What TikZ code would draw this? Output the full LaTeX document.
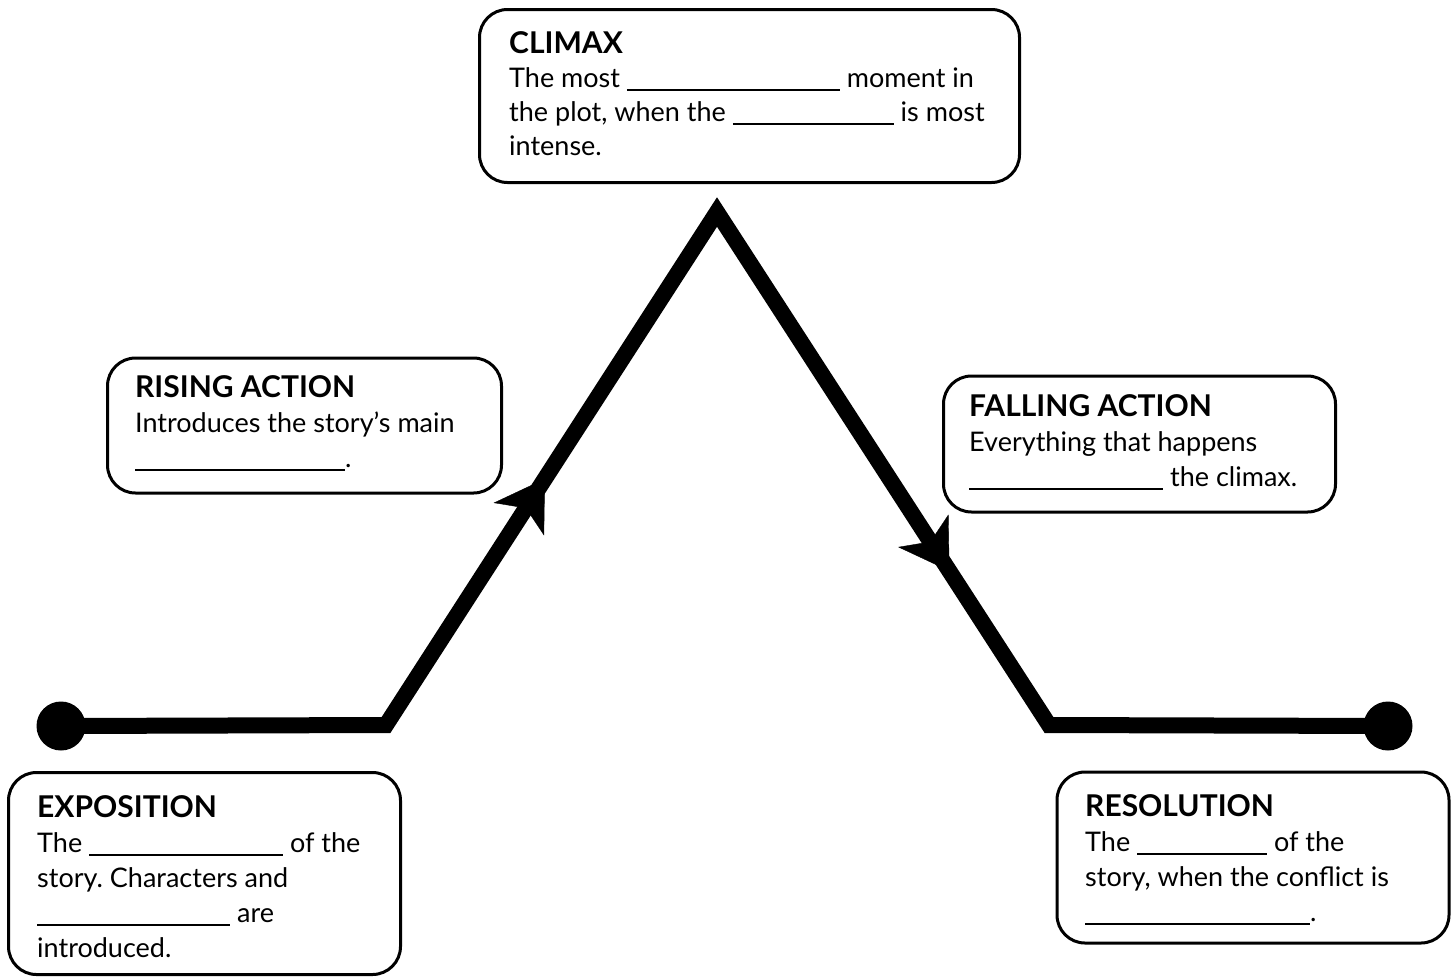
\documentclass[tikz,border=0pt]{standalone}
\usepackage{fontspec}
\setmainfont{Lato}
\usetikzlibrary{arrows.meta,decorations.markings}
\newcommand{\blank}[1]{\rule[-3pt]{#1pt}{1.8pt}}
\frenchspacing
\tikzset{
  box/.style={draw=black, line width=3pt, rounded corners=28pt, inner sep=0pt},
  txt/.style={anchor=north west, inner sep=0pt, align=left, font=\fontsize{27}{35}\selectfont},
  plotline/.style={line width=16pt, line join=miter, line cap=butt},
  dot/.style={circle, fill=black, minimum size=49pt, inner sep=0pt},
  midarrow/.style={postaction={decorate}, decoration={markings, mark=at position #1 with {\arrow{Stealth[length=48pt,width=60pt,inset=13pt]}}}}
}
\newcommand{\ttltext}[1]{{\fontsize{30}{35}\selectfont\bfseries #1}}
\begin{document}
\begin{tikzpicture}[x=1pt,y=-1pt]
\useasboundingbox (0,0) rectangle (1456,978);
% plot line
\node[dot] (dl) at (61,726) {};
\node[dot] (dr) at (1388,726) {};
\coordinate (p1) at (386,725);
\coordinate (p2) at (717,212);
\coordinate (p3) at (1049,725);
\draw[plotline] (dl.center) -- (p1) -- (p2) -- (p3) -- (dr.center);
\path[midarrow=0.48] (p1) -- (p2);
\path[midarrow=0.70] (p2) -- (p3);
% boxes
\node[box, minimum width=540pt, minimum height=173pt] (bclimax) at (749.5,96) {};
\node[box, minimum width=394pt, minimum height=135pt] (brising) at (304.5,425.5) {};
\node[box, minimum width=392pt, minimum height=136pt] (bfalling) at (1139.5,444) {};
\node[box, minimum width=392pt, minimum height=202pt] (bexpo) at (204.5,873.5) {};
\node[box, minimum width=392pt, minimum height=171pt] (breso) at (1253,857.5) {};
% texts
\node[txt, font=\fontsize{27}{34}\selectfont] (tclimax) at (509,31.5) {\ttltext{CLIMAX}\\The most \blank{213} moment in\\the plot, when the \blank{161} is most\\intense.};
\node[txt] (trising) at (135,375.5) {\ttltext{RISING ACTION}\\Introduces the story’s main\\\blank{210}.};
\node[txt] (tfalling) at (969,394.5) {\ttltext{FALLING ACTION}\\Everything that happens\\\blank{194} the climax.};
\node[txt] (texpo) at (37,795.5) {\ttltext{EXPOSITION}\\The \blank{194} of the\\story. Characters and\\\blank{193} are\\introduced.};
\node[txt] (treso) at (1085,794.5) {\ttltext{RESOLUTION}\\The \blank{130} of the\\story, when the conflict is\\\blank{225}.};
\end{tikzpicture}
\end{document}
